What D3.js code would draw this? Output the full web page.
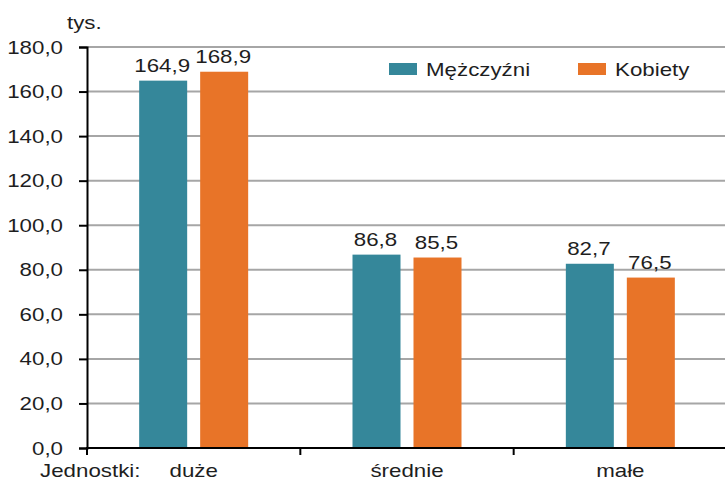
<!DOCTYPE html>
<html>
<head>
<meta charset="utf-8">
<script src="https://cdn.jsdelivr.net/npm/d3@7"></script>
<style>
  body { margin: 0; background: #fff; }
  text { font-family: "Liberation Sans", Arial, sans-serif; fill: #1e1e1e; }
</style>
</head>
<body>
<div id="chart"></div>
<script>
// data
var categories = ["duże", "średnie", "małe"];
var seriesNames = ["Mężczyźni", "Kobiety"];
var menValues = [164.9, 86.8, 82.7];
var womenValues = [168.9, 85.5, 76.5];
var yTicks = [0, 20, 40, 60, 80, 100, 120, 140, 160, 180];

var colors = ["#35879a", "#e87428"];

var svgWidth = 725;
var svgHeight = 481;

var margin = { top: 47, right: -2, bottom: 33, left: 87 };
var width = svgWidth - margin.left - margin.right;
var height = svgHeight - margin.top - margin.bottom;

var stretch = 1.24; // text in the original is wider than normal
var fontSize = "18px";

var svg = d3.select("#chart")
  .append("svg")
  .attr("width", svgWidth)
  .attr("height", svgHeight);

var chartGroup = svg.append("g")
  .attr("transform", `translate(${margin.left}, ${margin.top})`);

var pl = d3.formatLocale({ decimal: ",", thousands: " ", grouping: [3], currency: ["", ""] });
var fmt = pl.format(".1f");

// helper for stretched text
function addText(g, x, y, str, anchor) {
  return g.append("text")
    .attr("transform", `translate(${x}, ${y}) scale(${stretch}, 1)`)
    .attr("text-anchor", anchor || "start")
    .attr("font-size", fontSize)
    .text(str);
}

// scales
var x0 = d3.scaleBand()
  .domain(categories)
  .range([0, width])
  .padding(0);

var groupW = 109;
var x1 = d3.scaleBand()
  .domain(seriesNames)
  .range([(x0.bandwidth() - groupW) / 2, (x0.bandwidth() + groupW) / 2])
  .paddingInner(0.213)
  .paddingOuter(0);

var yScale = d3.scaleLinear()
  .domain([0, 180])
  .range([height, 0]);

// gridlines
chartGroup.append("g")
  .selectAll("line")
  .data(yTicks.filter(d => d > 0))
  .enter()
  .append("line")
  .attr("x1", 0)
  .attr("x2", svgWidth - margin.left)
  .attr("y1", d => yScale(d))
  .attr("y2", d => yScale(d))
  .attr("stroke", "#a6a6a6")
  .attr("stroke-width", 2);

// bars
var rows = categories.map((c, i) => ({ cat: c, vals: [menValues[i], womenValues[i]] }));

var groups = chartGroup.selectAll(".grp")
  .data(rows)
  .enter()
  .append("g")
  .attr("class", "grp")
  .attr("transform", d => `translate(${x0(d.cat)}, 0)`);

groups.selectAll("rect")
  .data(d => d.vals.map((v, j) => ({ name: seriesNames[j], v: v, j: j })))
  .enter()
  .append("rect")
  .attr("x", d => x1(d.name))
  .attr("width", x1.bandwidth())
  .attr("y", d => yScale(d.v))
  .attr("height", d => height - yScale(d.v))
  .attr("fill", d => colors[d.j]);

// value labels
groups.each(function(d) {
  var g = d3.select(this);
  d.vals.forEach(function(v, j) {
    addText(g, x1(seriesNames[j]) + x1.bandwidth() / 2 - 1, yScale(v) - 9, fmt(v), "middle");
  });
});

// y axis
var leftAxis = d3.axisLeft(yScale)
  .tickValues(yTicks)
  .tickSize(8)
  .tickFormat("");

var yAxis = chartGroup.append("g").call(leftAxis);
yAxis.select(".domain").attr("stroke", "#000").attr("stroke-width", 2);
yAxis.selectAll(".tick line").attr("stroke", "#000").attr("stroke-width", 2);

yTicks.forEach(function(t) {
  addText(chartGroup, -24, yScale(t) + 6.5, fmt(t), "end");
});

// x axis line + boundary ticks
chartGroup.append("line")
  .attr("x1", -1)
  .attr("x2", svgWidth - margin.left)
  .attr("y1", height)
  .attr("y2", height)
  .attr("stroke", "#000")
  .attr("stroke-width", 2);

chartGroup.selectAll(".xtick")
  .data(categories)
  .enter()
  .append("line")
  .attr("class", "xtick")
  .attr("x1", d => x0(d))
  .attr("x2", d => x0(d))
  .attr("y1", height)
  .attr("y2", height + 7)
  .attr("stroke", "#000")
  .attr("stroke-width", 2);

// category labels
categories.forEach(function(c) {
  addText(chartGroup, x0(c) + x0.bandwidth() / 2, height + 29, c, "middle");
});
addText(svg, 40, svgHeight - 4, "Jednostki:", "start");

// unit label
addText(svg, 67, 29, "tys.", "start");

// legend
var legendX = [389, 578];
seriesNames.forEach(function(n, i) {
  svg.append("rect")
    .attr("x", legendX[i])
    .attr("y", 63)
    .attr("width", 28)
    .attr("height", 12)
    .attr("fill", colors[i]);
  addText(svg, legendX[i] + 37, 75.5, n, "start");
});
</script>
</body>
</html>
